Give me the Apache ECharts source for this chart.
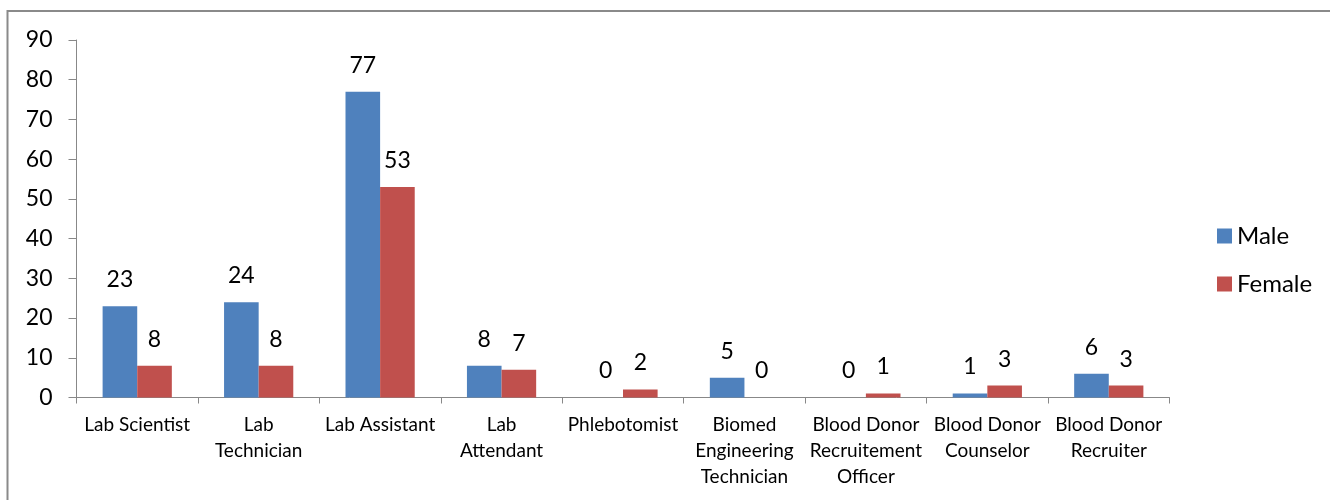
<!DOCTYPE html>
<html>
<head>
<meta charset="utf-8">
<script src="https://cdn.jsdelivr.net/npm/echarts@6/dist/echarts.min.js"></script>
<style>
html,body{margin:0;padding:0;background:#fff;}
#chart{width:1330px;height:500px;}
</style>
</head>
<body>
<div id="chart"></div>
<script>
const categories = [
  "Lab Scientist",
  "Lab\nTechnician",
  "Lab Assistant",
  "Lab\nAttendant",
  "Phlebotomist",
  "Biomed\nEngineering\nTechnician",
  "Blood Donor\nRecruitement\nOfficer",
  "Blood Donor\nCounselor",
  "Blood Donor\nRecruiter"
];
const maleValues = [23, 24, 77, 8, 0, 5, 0, 1, 6];
const femaleValues = [8, 8, 53, 7, 2, 0, 1, 3, 3];
const yTicks = [0, 10, 20, 30, 40, 50, 60, 70, 80, 90];

const FONT = 'Lato';
const AXIS = '#888888';
const chart = echarts.init(document.getElementById('chart'), null, {renderer: 'canvas'});
const labelStyle = {
  show: true, position: 'top', distance: 15,
  color: '#000', fontSize: 23, fontFamily: FONT
};
chart.setOption({
  animation: false,
  backgroundColor: '#fff',
  textStyle: {fontFamily: FONT},
  graphic: [{
    type: 'rect', silent: true,
    shape: {x: 7.5, y: 11, width: 1400, height: 600},
    style: {fill: 'none', stroke: '#8a8a8a', lineWidth: 2}
  }],
  grid: {left: 76.5, right: 160.5, top: 40, bottom: 102.5, containLabel: false},
  legend: {
    orient: 'vertical', left: 1212, top: 219,
    itemWidth: 15, itemHeight: 15, itemGap: 24, icon: 'rect',
    textStyle: {fontSize: 24, color: '#000', fontFamily: FONT, padding: [0, 0, 0, 0]},
    data: ['Male', 'Female']
  },
  xAxis: {
    type: 'category', data: categories,
    axisLine: {lineStyle: {color: AXIS, width: 1}},
    axisTick: {show: true, length: 6, lineStyle: {color: AXIS}},
    axisLabel: {interval: 0, margin: 14, fontSize: 19, lineHeight: 26, color: '#000', fontFamily: FONT},
    splitLine: {show: false}
  },
  yAxis: {
    type: 'value', min: yTicks[0], max: yTicks[yTicks.length - 1], interval: yTicks[1] - yTicks[0],
    axisLine: {show: true, lineStyle: {color: AXIS, width: 1}},
    axisTick: {show: true, length: 8, lineStyle: {color: AXIS}},
    axisLabel: {margin: 24, fontSize: 23, color: '#000', fontFamily: FONT},
    splitLine: {show: false}
  },
  series: [
    {name: 'Male', type: 'bar', data: maleValues, barGap: '0%', barCategoryGap: '43%',
     itemStyle: {color: '#4F81BD'}, label: labelStyle},
    {name: 'Female', type: 'bar', data: femaleValues, barGap: '0%', barCategoryGap: '43%',
     itemStyle: {color: '#C0504D'}, label: labelStyle}
  ]
});
</script>
</body>
</html>
